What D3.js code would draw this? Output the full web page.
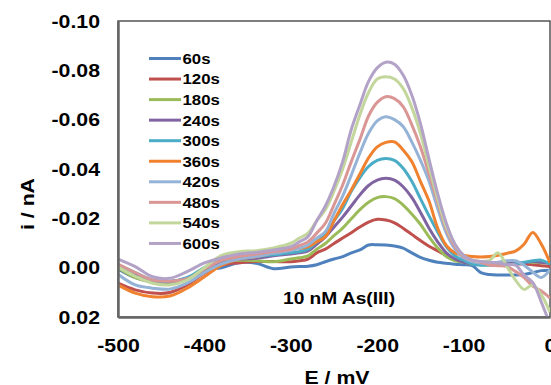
<!DOCTYPE html>
<html>
<head>
<meta charset="utf-8">
<script src="https://cdn.jsdelivr.net/npm/d3@7"></script>
<style>
  html, body { margin: 0; padding: 0; background: #fff; }
  svg { display: block; }
  text { font-family: "Liberation Sans", Arial, sans-serif; font-weight: bold; fill: #000; }
</style>
</head>
<body>
<script>
// Potential axis (mV) shared by every scan
const E = [-500, -480, -460, -440, -420, -400, -380, -360, -340, -320,
           -300, -290, -280, -270, -260, -250, -240, -230, -220, -210,
           -200, -190, -180, -170, -160, -150, -140, -130, -120, -110,
           -100, -90, -80, -70, -60, -50, -40, -30, -20, -10, 0];

// Current (nA) per deposition time
const s60  = [0.0005, 0.004, 0.0055, 0.0057, 0.0045, 0.001, 0.0, -0.002, -0.0018, 0.0004,
              -0.0003, -0.0005, -0.0006, -0.0012, -0.0024, -0.0035, -0.0045, -0.006, -0.0072, -0.0092,
              -0.0093, -0.0092, -0.0088, -0.0079, -0.006, -0.0042, -0.003, -0.0022, -0.0018, -0.0014,
              -0.0012, -0.0008, 0.002, 0.0028, 0.003, 0.003, 0.003, 0.0028, 0.002, 0.0012, 0.001];
const s120 = [0.0063, 0.009, 0.0103, 0.0101, 0.007, 0.0022, -0.001, -0.002, -0.0025, -0.0025,
              -0.0024, -0.0028, -0.0035, -0.006, -0.0075, -0.0098, -0.012, -0.0142, -0.0165, -0.0185,
              -0.0196, -0.0193, -0.0182, -0.016, -0.0135, -0.011, -0.0087, -0.0068, -0.005, -0.0035,
              -0.0028, -0.0024, -0.0022, -0.002, -0.0018, -0.0016, -0.0015, -0.0015, -0.0012, -0.0008, -0.0005];
const s180 = [0.0, 0.004, 0.0058, 0.006, 0.0045, 0.0008, -0.002, -0.003, -0.0028, -0.0024,
              -0.0035, -0.004, -0.0048, -0.0075, -0.0098, -0.013, -0.016, -0.0198, -0.0235, -0.0265,
              -0.0284, -0.0288, -0.028, -0.0254, -0.0218, -0.0176, -0.0125, -0.008, -0.0045, -0.0028,
              -0.0022, -0.0015, -0.0012, -0.001, -0.0012, -0.0015, -0.0018, -0.002, -0.0022, -0.002, -0.002];
const s240 = [-0.0005, 0.003, 0.0055, 0.0057, 0.0042, 0.0005, -0.0025, -0.0035, -0.0038, -0.0048,
              -0.0055, -0.006, -0.0068, -0.0095, -0.0125, -0.0165, -0.0205, -0.025, -0.0295, -0.0333,
              -0.0355, -0.0362, -0.0355, -0.0328, -0.0285, -0.0225, -0.016, -0.0105, -0.006, -0.0035,
              -0.0022, -0.0016, -0.0014, -0.0013, -0.0014, -0.0016, -0.0018, -0.002, -0.0025, -0.0022, -0.0018];
const s300 = [-0.0012, 0.002, 0.005, 0.0055, 0.004, 0.0, -0.003, -0.004, -0.0045, -0.0052,
              -0.006, -0.0065, -0.0075, -0.0105, -0.0135, -0.019, -0.024, -0.031, -0.0365, -0.041,
              -0.0435, -0.0443, -0.0435, -0.0403, -0.035, -0.028, -0.021, -0.0145, -0.0085, -0.0048,
              -0.003, -0.0015, -0.001, -0.001, -0.0012, -0.0012, -0.0015, -0.0022, -0.0028, -0.003, -0.0015];
const s360 = [0.007, 0.0103, 0.0118, 0.0115, 0.0083, 0.0037, -0.001, -0.0035, -0.0045, -0.006,
              -0.0075, -0.0078, -0.0085, -0.0105, -0.0126, -0.019, -0.0255, -0.0315, -0.038, -0.0445,
              -0.049, -0.0508, -0.051, -0.0477, -0.043, -0.035, -0.027, -0.016, -0.009, -0.006,
              -0.005, -0.0045, -0.0043, -0.0045, -0.005, -0.0058, -0.0067, -0.0095, -0.0143, -0.0095, -0.002];
const s420 = [0.0027, 0.007, 0.0083, 0.0087, 0.0063, 0.002, -0.0015, -0.0035, -0.0045, -0.0058,
              -0.0069, -0.0078, -0.0092, -0.012, -0.0146, -0.022, -0.029, -0.0375, -0.0465, -0.0545,
              -0.0595, -0.0612, -0.06, -0.0572, -0.051, -0.0436, -0.035, -0.024, -0.014, -0.0075,
              -0.004, -0.0025, -0.0018, -0.0018, -0.0022, -0.0028, -0.0028, -0.001, 0.0018, 0.004, 0.0008];
const s480 = [-0.0015, 0.002, 0.005, 0.0055, 0.0045, 0.0005, -0.003, -0.0045, -0.0055, -0.0065,
              -0.0074, -0.009, -0.0105, -0.014, -0.018, -0.0255, -0.0335, -0.043, -0.052, -0.0615,
              -0.067, -0.0693, -0.0685, -0.0653, -0.058, -0.049, -0.038, -0.0265, -0.0155, -0.0085,
              -0.0045, -0.003, -0.0022, -0.001, -0.0008, -0.0005, 0.0015, 0.004, 0.0075, 0.0095, 0.0123];
const s540 = [-0.0002, 0.0035, 0.0063, 0.007, 0.005, 0.0, -0.005, -0.0065, -0.0069, -0.008,
              -0.0099, -0.012, -0.014, -0.019, -0.0235, -0.031, -0.04, -0.051, -0.062, -0.071,
              -0.0765, -0.0774, -0.0765, -0.0727, -0.065, -0.0545, -0.041, -0.028, -0.0165, -0.0095,
              -0.005, -0.003, -0.0025, -0.003, -0.006, -0.0005, 0.005, 0.0088, 0.007, 0.011, 0.018];
const s600 = [-0.0035, -0.0004, 0.0037, 0.0043, 0.0016, -0.0019, -0.004, -0.0055, -0.0062, -0.0072,
              -0.0085, -0.0105, -0.0126, -0.019, -0.025, -0.033, -0.043, -0.056, -0.066, -0.0755,
              -0.081, -0.0833, -0.0825, -0.0781, -0.07, -0.0585, -0.044, -0.03, -0.018, -0.0095,
              -0.005, -0.003, -0.0025, -0.0022, -0.002, -0.0012, -0.001, 0.003, 0.006, 0.014, 0.023];

const labels = ["60s", "120s", "180s", "240s", "300s", "360s", "420s", "480s", "540s", "600s"];
const colors = ["#4F81BD", "#C0504D", "#9BBB59", "#8064A2", "#4BACC6",
                "#F0822F", "#95B3D7", "#D99694", "#C3D69B", "#B3A2C7"];
const series = [s60, s120, s180, s240, s300, s360, s420, s480, s540, s600];

const xTicks = [-500, -400, -300, -200, -100, 0];
const yTicks = [-0.10, -0.08, -0.06, -0.04, -0.02, 0.00, 0.02];

// Layout
const W = 551, H = 385;
const plot = { left: 118, right: 550, top: 21, bottom: 317 };
const sx = 1.12; // the original lettering is a touch wider than Arial

const svg = d3.select("body").append("svg")
    .attr("width", W)
    .attr("height", H);

const x = d3.scaleLinear().domain([-500, 0]).range([plot.left, plot.right]);
const y = d3.scaleLinear().domain([-0.10, 0.02]).range([plot.top, plot.bottom]);

svg.append("defs").append("clipPath").attr("id", "clip")
  .append("rect")
    .attr("x", plot.left).attr("y", plot.top)
    .attr("width", plot.right - plot.left).attr("height", plot.bottom - plot.top);

// Plot frame
svg.append("rect")
    .attr("x", plot.left).attr("y", plot.top)
    .attr("width", plot.right - plot.left).attr("height", plot.bottom - plot.top)
    .attr("fill", "none")
    .attr("stroke", "#3a3a3a")
    .attr("stroke-width", 1.3);

// Curves
const line = d3.line()
    .x((d, i) => x(E[i]))
    .y(d => y(d))
    .curve(d3.curveCatmullRom.alpha(0.5));

svg.append("g").attr("clip-path", "url(#clip)")
  .selectAll("path")
  .data(series)
  .join("path")
    .attr("d", line)
    .attr("fill", "none")
    .attr("stroke", (d, i) => colors[i])
    .attr("stroke-width", 3)
    .attr("stroke-linejoin", "round");

// Axes
const yAxis = svg.append("g")
    .attr("transform", `translate(${plot.left},0)`)
    .call(d3.axisLeft(y).tickValues(yTicks).tickFormat(d => d.toFixed(2)).tickSize(0).tickSizeOuter(0));
yAxis.selectAll("text")
    .attr("x", -18 / sx)
    .attr("transform", `scale(${sx},1)`)
    .style("font-size", "19px");

const xAxis = svg.append("g")
    .attr("transform", `translate(0,${plot.bottom})`)
    .call(d3.axisBottom(x).tickValues(xTicks).tickFormat(d => String(d)).tickSize(0).tickSizeOuter(0));
xAxis.selectAll("text")
    .attr("y", 22)
    .attr("transform", `scale(${sx},1)`)
    .style("font-size", "19px");

[yAxis, xAxis].forEach(g => {
  g.select(".domain").attr("stroke", "#666").attr("stroke-width", 2.5);
  g.selectAll("text").attr("fill", "#000").style("font-family", "'Liberation Sans', Arial, sans-serif").style("font-weight", "bold");
});

// Axis titles
svg.append("text")
    .attr("transform", `translate(337,383.5) scale(${sx},1)`)
    .attr("text-anchor", "middle")
    .style("font-size", "19px")
    .text("E / mV");

svg.append("text")
    .attr("transform", `translate(33.5,204) rotate(-90) scale(${sx},1)`)
    .attr("text-anchor", "middle")
    .style("font-size", "19px")
    .text("i / nA");

// Annotation
svg.append("text")
    .attr("x", 339).attr("y", 304)
    .attr("text-anchor", "middle")
    .attr("textLength", 112)
    .attr("lengthAdjust", "spacingAndGlyphs")
    .style("font-size", "16px")
    .text("10 nM As(III)");

// Legend
const legend = svg.append("g")
  .selectAll("g")
  .data(labels)
  .join("g")
    .attr("transform", (d, i) => `translate(149,${58.5 + i * 20.55})`);

legend.append("line")
    .attr("x1", 0).attr("x2", 32)
    .attr("stroke", (d, i) => colors[i])
    .attr("stroke-width", 3);

legend.append("text")
    .attr("transform", `translate(33.5,0) scale(${sx},1)`)
    .attr("dy", "0.36em")
    .style("font-size", "15px")
    .text(d => d);
</script>
</body>
</html>
